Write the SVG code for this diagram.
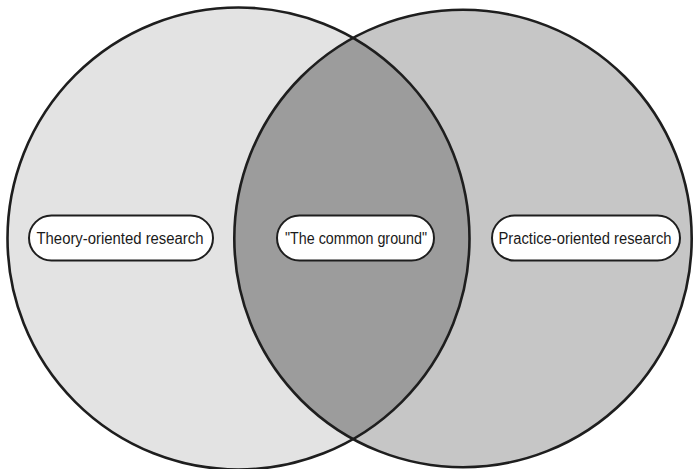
<svg xmlns="http://www.w3.org/2000/svg" width="694" height="469" viewBox="0 0 694 469">
  <style>
    .ring { fill: none; stroke: #1e1e1e; stroke-width: 2.6; }
    .pill { fill: #ffffff; stroke: #1e1e1e; stroke-width: 2; }
    .lbl { font-family: "Liberation Sans", Arial, sans-serif; font-size: 16px; fill: #1a1a1a; text-anchor: middle; dominant-baseline: central; }
  </style>
  <defs>
    <clipPath id="clipLeft">
      <circle cx="238.5" cy="238.5" r="231"/>
    </clipPath>
  </defs>
  <rect width="694" height="469" fill="#ffffff"/>
  <g id="theory-circle">
    <circle cx="238.5" cy="238.5" r="231" fill="#e3e3e3"/>
  </g>
  <g id="practice-circle">
    <circle cx="463" cy="238.5" r="228.7" fill="#c6c6c6"/>
  </g>
  <g id="common-ground-area">
    <circle cx="463" cy="238.5" r="228.7" fill="#9c9c9c" clip-path="url(#clipLeft)"/>
  </g>
  <g id="outlines">
    <circle class="ring" cx="238.5" cy="238.5" r="231"/>
    <circle class="ring" cx="463" cy="238.5" r="228.7"/>
  </g>
  <g id="theory-label">
    <rect class="pill" x="29" y="215.5" width="184" height="45" rx="22.5"/>
    <text class="lbl" x="120" y="238" textLength="167" lengthAdjust="spacingAndGlyphs">Theory-oriented research</text>
  </g>
  <g id="common-label">
    <rect class="pill" x="277" y="215.5" width="157" height="45" rx="22.5"/>
    <text class="lbl" x="356" y="238" textLength="142" lengthAdjust="spacingAndGlyphs">"The common ground"</text>
  </g>
  <g id="practice-label">
    <rect class="pill" x="492" y="215.5" width="188" height="45" rx="22.5"/>
    <text class="lbl" x="585" y="238" textLength="173" lengthAdjust="spacingAndGlyphs">Practice-oriented research</text>
  </g>
  <g id="connectors"></g>
</svg>
